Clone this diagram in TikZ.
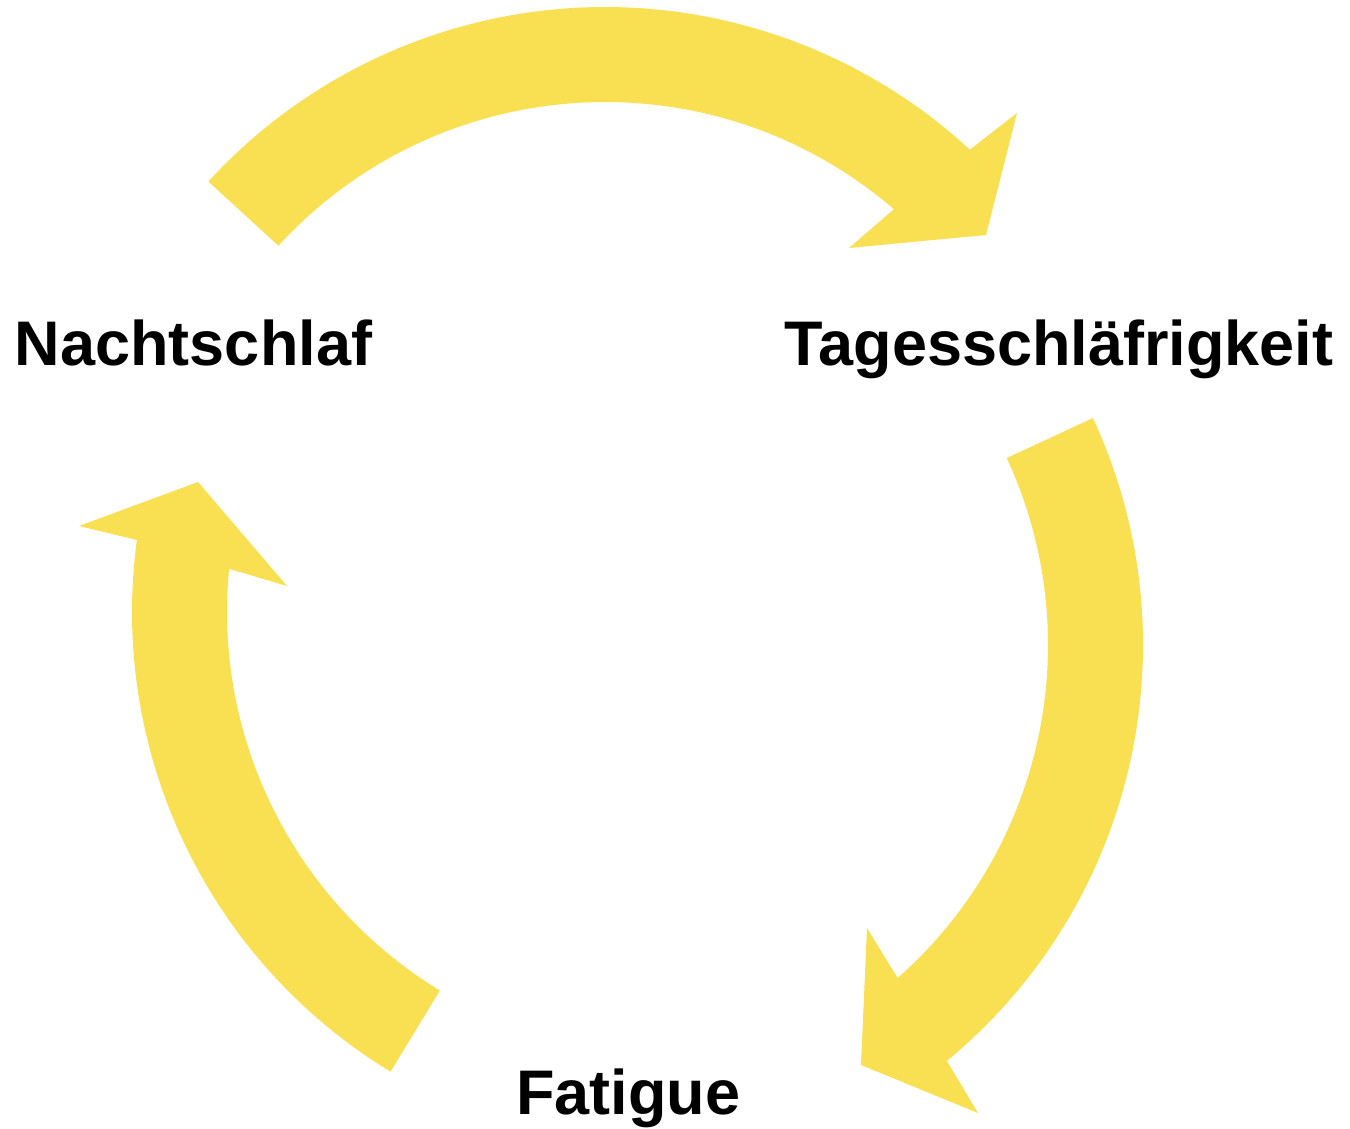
\documentclass[tikz,border=0pt]{standalone}
\usepackage{fontspec}
\setmainfont{Liberation Sans}
\usetikzlibrary{calc}
\definecolor{arrowyellow}{HTML}{F9DF52}
\tikzset{
  blockarrow/.style={fill=arrowyellow, draw=none},
  cyclelabel/.style={anchor=base, inner sep=0pt, font=\fontsize{63}{63}\selectfont\bfseries, text=black}
}
\begin{document}
\begin{tikzpicture}[x=1pt,y=1pt]
\useasboundingbox (0,0) rectangle (1350,-1128);
% top arrow: Nachtschlaf -> Tagesschlaefrigkeit
\coordinate (ct) at (605,-545);
\fill[blockarrow] ($(ct)+(137.5:538)$) arc[start angle=137.5, end angle=47.3, radius=538]
  -- (1017,-113) -- (986,-235) -- (849,-248) -- ($(ct)+(49.3:443)$)
  arc[start angle=49.3, end angle=137.5, radius=443] -- cycle;
% right arrow: Tagesschlaefrigkeit -> Fatigue
\coordinate (cr) at (604,-645);
\fill[blockarrow] ($(cr)+(24.9:539)$) arc[start angle=24.9, end angle=-50.5, radius=539]
  -- (978,-1113) -- (861,-1065) -- (867,-928) -- ($(cr)+(-48.6:444)$)
  arc[start angle=-48.6, end angle=24.9, radius=444] -- cycle;
% left arrow: Fatigue -> Nachtschlaf
\coordinate (cl) at (670,-612);
\fill[blockarrow] ($(cl)+(-121.3:538)$) arc[start angle=-121.3, end angle=-187.7, radius=538]
  -- (79,-526) -- (198,-482) -- (287,-586) -- ($(cl)+(-185.6:443)$)
  arc[start angle=-185.6, end angle=-121.3, radius=443] -- cycle;
% labels
\node[cyclelabel] (nacht) at (193.5,-365) {Nachtschlaf};
\node[cyclelabel] (tag) at (1059,-365) {Tagesschläfrigkeit};
\node[cyclelabel] (fat) at (628,-1114) {Fatigue};
\end{tikzpicture}
\end{document}
